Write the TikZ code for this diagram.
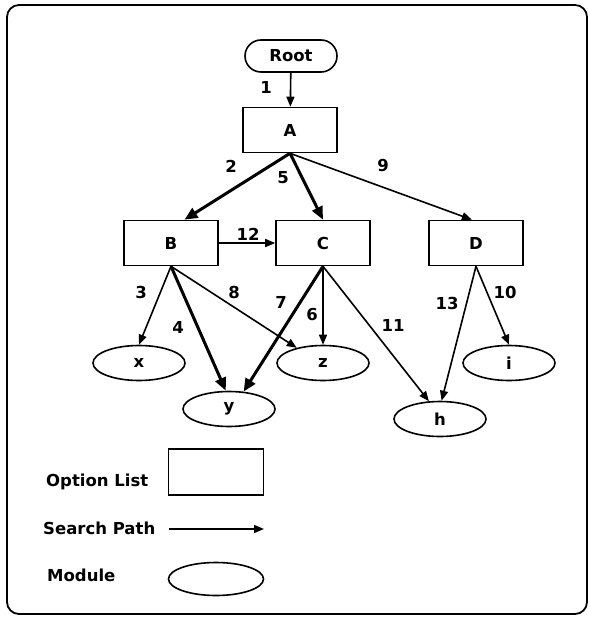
\documentclass[tikz,border=0pt]{standalone}
\usepackage{fontspec}
\setmainfont{DejaVu Sans}
\usetikzlibrary{arrows.meta,shapes.geometric}
\tikzset{
  box/.style   = {draw, line width=1.6pt, minimum width=94pt, minimum height=45pt,
                  inner sep=0pt, font=\bfseries\fontsize{16.5}{18}\selectfont},
  mod/.style   = {draw, ellipse, line width=1.6pt, minimum width=92pt, minimum height=35pt,
                  inner sep=0pt, font=\bfseries\fontsize{16.5}{18}\selectfont},
  num/.style   = {font=\bfseries\fontsize{16.5}{18}\selectfont, inner sep=0pt},
  flow/.style  = {-{Triangle[length=10pt, width=8pt]}, line width=1.6pt},
  heavy/.style = {-{Triangle[length=13pt, width=11pt]}, line width=3pt},
}
\begin{document}
\begin{tikzpicture}[x=1pt, y=-1pt]
\useasboundingbox (0,0) rectangle (589,620);
% outer frame
\draw[line width=1.8pt, rounded corners=12pt] (7,5) rectangle (587,614);

% option lists
\node[draw, line width=1.6pt, rounded corners=16pt, minimum width=92pt, minimum height=32pt,
      inner sep=0pt, font=\bfseries\fontsize{16.5}{18}\selectfont] (root) at (291,56) {Root};
\node[box] (A) at (290,130) {A};
\node[box] (B) at (171,243) {B};
\node[box] (C) at (323,243) {C};
\node[box] (D) at (476,243) {D};

% modules
\node[mod] (x) at (139,363) {x};
\node[mod] (z) at (323,363) {z};
\node[mod] (y) at (229,409) {y};
\node[mod] (h) at (440,419) {h};
\node[mod] (i) at (509,363) {i};

% search path
\draw[flow]  (root) -- (A);
\draw[heavy] (A.south) -- (B.60);
\draw[heavy] (A.south) -- (C.north);
\draw[flow]  (A.south) -- (D.100);
\draw[flow]  (B.south) -- (x.north);
\draw[heavy] (B.south) -- (y.100);
\draw[flow]  (B.south) -- (z.150);
\draw[flow]  (B.east) -- (C.west);
\draw[heavy] (C.south) -- (y.50);
\draw[flow]  (C.south) -- (z.north);
\draw[flow]  (C.south) -- (h.122);
\draw[flow]  (D.south) -- (h.85);
\draw[flow]  (D.south) -- (i.north);

% step numbers
\node[num] (n1)  at (266,87)  {1};
\node[num] (n2)  at (231,166) {2};
\node[num] (n5)  at (283,178) {5};
\node[num] (n9)  at (383,166) {9};
\node[num] (n12) at (248,234) {12};
\node[num] (n3)  at (141,292) {3};
\node[num] (n4)  at (178,327) {4};
\node[num] (n8)  at (234,292) {8};
\node[num] (n7)  at (281,302) {7};
\node[num] (n6)  at (312,314) {6};
\node[num] (n11) at (393,325) {11};
\node[num] (n13) at (447,303) {13};
\node[num] (n10) at (505,292) {10};

% legend
\node[num, anchor=west] (lopt) at (46,482) {Option List};
\node[draw, line width=1.6pt, minimum width=95pt, minimum height=46pt] (kbox) at (216,472) {};
\node[num, anchor=west] (lpath) at (43,528) {Search Path};
\coordinate (ps) at (169,529);
\coordinate (pe) at (264,529);
\draw[flow] (ps) -- (pe);
\node[num, anchor=west] (lmod) at (47,575) {Module};
\node[draw, ellipse, line width=1.6pt, minimum width=95pt, minimum height=33pt] (kmod) at (216,579) {};
\end{tikzpicture}
\end{document}
